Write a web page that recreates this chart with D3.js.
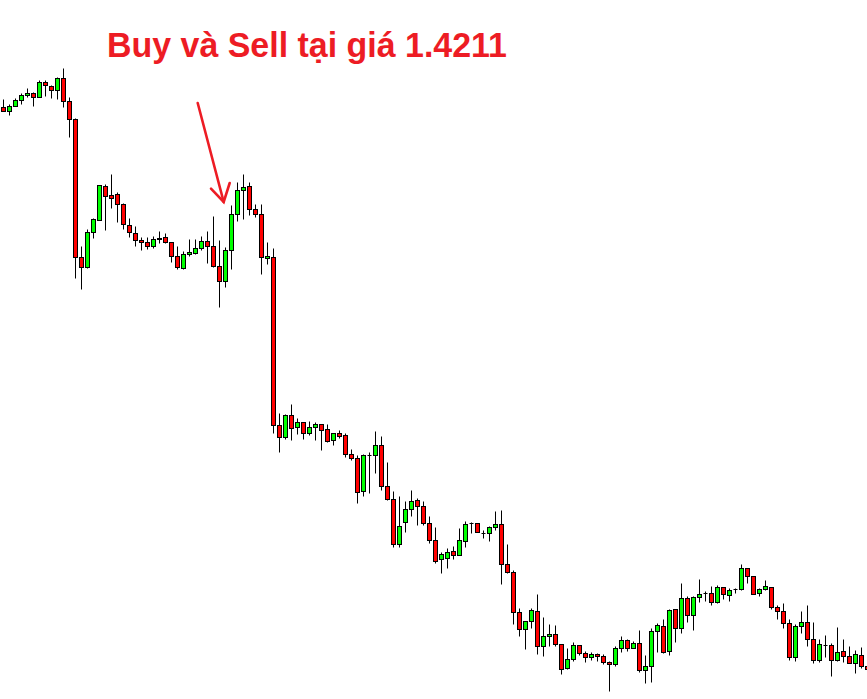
<!DOCTYPE html>
<html>
<head>
<meta charset="utf-8">
<script src="https://cdn.jsdelivr.net/npm/d3@7"></script>
<style>
  html, body { margin: 0; padding: 0; background: #fff; }
  svg { display: block; }
</style>
</head>
<body>
<div id="chart"></div>
<script>
// OHLC, one bar per index
const open = [
  1.4304,1.4300,1.4305,1.4311,1.4316,1.4318,1.4314,1.4329,1.4325,1.4321,
  1.4333,1.4310,1.4292,1.4154,1.4144,1.4179,1.4191,1.4225,1.4216,1.4217,
  1.4207,1.4186,1.4178,1.4171,1.4169,1.4165,1.4172,1.4174,1.4169,1.4155,
  1.4143,1.4157,1.4158,1.4163,1.4170,1.4165,1.4145,1.4130,1.4161,1.4197,
  1.4221,1.4225,1.4202,1.4197,1.4153,1.4154,1.3986,1.3974,1.3996,1.3984,
  1.3989,1.3978,1.3984,1.3987,1.3982,1.3971,1.3978,1.3976,1.3957,1.3953,
  1.3920,1.3956,1.3956,1.3966,1.3925,1.3912,1.3867,1.3889,1.3902,1.3911,
  1.3905,1.3888,1.3871,1.3852,1.3853,1.3860,1.3856,1.3870,1.3888,1.3888,
  1.3878,1.3878,1.3884,1.3887,1.3847,1.3839,1.3799,1.3782,1.3790,1.3800,
  1.3765,1.3775,1.3777,1.3767,1.3743,1.3752,1.3766,1.3758,1.3754,1.3757,
  1.3755,1.3749,1.3747,1.3763,1.3771,1.3763,1.3768,1.3741,1.3745,1.3780,
  1.3785,1.3760,1.3802,1.3783,1.3813,1.3796,1.3814,1.3818,1.3818,1.3809,
  1.3824,1.3816,1.3822,1.3822,1.3843,1.3835,1.3818,1.3822,1.3824,1.3804,
  1.3800,1.3788,1.3754,1.3785,1.3789,1.3772,1.3751,1.3766,1.3766,1.3751,
  1.3760,1.3755,1.3748,1.3756,1.3745
];
const high = [
  1.4312,1.4307,1.4313,1.4318,1.4323,1.4319,1.4331,1.4331,1.4326,1.4334,
  1.4343,1.4314,1.4293,1.4165,1.4182,1.4193,1.4226,1.4227,1.4237,1.4219,
  1.4208,1.4193,1.4185,1.4174,1.4174,1.4175,1.4180,1.4178,1.4169,1.4165,
  1.4160,1.4172,1.4172,1.4175,1.4180,1.4195,1.4171,1.4164,1.4206,1.4229,
  1.4237,1.4229,1.4207,1.4207,1.4169,1.4163,1.3998,1.3997,1.4007,1.3993,
  1.3989,1.3990,1.3989,1.3987,1.3987,1.3978,1.3981,1.3978,1.3962,1.3956,
  1.3957,1.3959,1.3980,1.3975,1.3949,1.3920,1.3915,1.3910,1.3921,1.3913,
  1.3910,1.3895,1.3884,1.3859,1.3863,1.3865,1.3883,1.3890,1.3889,1.3888,
  1.3881,1.3885,1.3900,1.3901,1.3867,1.3841,1.3803,1.3790,1.3803,1.3817,
  1.3794,1.3787,1.3786,1.3767,1.3763,1.3769,1.3766,1.3760,1.3759,1.3758,
  1.3757,1.3750,1.3765,1.3775,1.3772,1.3770,1.3781,1.3756,1.3783,1.3788,
  1.3792,1.3802,1.3802,1.3828,1.3815,1.3815,1.3832,1.3820,1.3825,1.3826,
  1.3824,1.3823,1.3823,1.3847,1.3843,1.3835,1.3823,1.3831,1.3824,1.3806,
  1.3808,1.3792,1.3787,1.3800,1.3806,1.3789,1.3772,1.3776,1.3768,1.3784,
  1.3772,1.3765,1.3761,1.3764,1.3747
];
const low = [
  1.4300,1.4296,1.4305,1.4307,1.4314,1.4305,1.4314,1.4315,1.4313,1.4312,
  1.4304,1.4274,1.4133,1.4122,1.4143,1.4173,1.4191,1.4181,1.4203,1.4189,
  1.4182,1.4174,1.4165,1.4161,1.4162,1.4163,1.4168,1.4168,1.4149,1.4142,
  1.4142,1.4155,1.4157,1.4161,1.4148,1.4144,1.4104,1.4124,1.4142,1.4190,
  1.4192,1.4196,1.4194,1.4137,1.4147,1.3978,1.3959,1.3972,1.3971,1.3977,
  1.3972,1.3976,1.3971,1.3961,1.3969,1.3966,1.3973,1.3954,1.3951,1.3908,
  1.3915,1.3918,1.3938,1.3921,1.3911,1.3864,1.3864,1.3879,1.3895,1.3886,
  1.3886,1.3868,1.3848,1.3838,1.3843,1.3852,1.3856,1.3864,1.3878,1.3879,
  1.3873,1.3870,1.3881,1.3827,1.3838,1.3787,1.3775,1.3762,1.3783,1.3757,
  1.3755,1.3765,1.3765,1.3737,1.3742,1.3750,1.3756,1.3749,1.3751,1.3750,
  1.3747,1.3720,1.3745,1.3759,1.3760,1.3763,1.3739,1.3728,1.3729,1.3759,
  1.3758,1.3756,1.3769,1.3778,1.3789,1.3781,1.3809,1.3810,1.3806,1.3808,
  1.3812,1.3810,1.3818,1.3821,1.3828,1.3817,1.3815,1.3821,1.3802,1.3792,
  1.3783,1.3751,1.3750,1.3778,1.3765,1.3748,1.3749,1.3754,1.3735,1.3750,
  1.3749,1.3748,1.3738,1.3743,1.3741
];
const close = [
  1.4300,1.4305,1.4311,1.4316,1.4318,1.4314,1.4329,1.4326,1.4321,1.4333,
  1.4310,1.4292,1.4154,1.4144,1.4179,1.4192,1.4226,1.4215,1.4213,1.4207,
  1.4187,1.4179,1.4171,1.4169,1.4165,1.4172,1.4173,1.4169,1.4155,1.4144,
  1.4157,1.4159,1.4163,1.4170,1.4165,1.4145,1.4130,1.4161,1.4197,1.4221,
  1.4224,1.4202,1.4197,1.4154,1.4155,1.3986,1.3974,1.3996,1.3983,1.3989,
  1.3978,1.3984,1.3987,1.3981,1.3970,1.3978,1.3975,1.3957,1.3953,1.3919,
  1.3956,1.3956,1.3966,1.3925,1.3912,1.3867,1.3885,1.3902,1.3910,1.3905,
  1.3888,1.3871,1.3850,1.3857,1.3859,1.3856,1.3871,1.3887,1.3888,1.3879,
  1.3878,1.3884,1.3887,1.3847,1.3839,1.3799,1.3782,1.3790,1.3801,1.3765,
  1.3775,1.3777,1.3767,1.3742,1.3752,1.3766,1.3758,1.3754,1.3757,1.3755,
  1.3749,1.3747,1.3763,1.3771,1.3763,1.3768,1.3741,1.3745,1.3780,1.3786,
  1.3759,1.3801,1.3783,1.3813,1.3796,1.3814,1.3817,1.3818,1.3809,1.3824,
  1.3817,1.3821,1.3822,1.3843,1.3835,1.3817,1.3822,1.3825,1.3804,1.3800,
  1.3788,1.3754,1.3785,1.3789,1.3772,1.3751,1.3767,1.3766,1.3751,1.3759,
  1.3755,1.3748,1.3757,1.3745,1.3742
];

const TITLE = 'Buy và Sell tại giá 1.4211';
// where the arrow points: bar index (fractional) and price
const arrowAt = { i: 36.7, price: 1.4209 };

const WIDTH = 867;
const HEIGHT = 699;
const BAR_STEP = 6;
const BODY_W = 4;

const UP = '#00ff00';
const DOWN = '#ff0000';
const INK = '#ed1c24';

const bars = open.map((o, i) => ({ i, o, h: high[i], l: low[i], c: close[i] }));

const x = d3.scaleLinear()
  .domain([0, bars.length - 1])
  .range([3.5, 3.5 + BAR_STEP * (bars.length - 1)]);

const y = d3.scaleLinear()
  .domain([1.4411, 1.3712])
  .range([0, HEIGHT]);

const py = v => Math.round(y(v)) + 0.5;

const svg = d3.select('#chart').append('svg')
  .attr('width', WIDTH)
  .attr('height', HEIGHT);

const g = svg.append('g').attr('class', 'candles');

const candle = g.selectAll('g.bar')
  .data(bars)
  .enter()
  .append('g')
  .attr('class', 'bar');

// wicks
candle.append('line')
  .attr('x1', d => x(d.i))
  .attr('x2', d => x(d.i))
  .attr('y1', d => py(d.h))
  .attr('y2', d => py(d.l))
  .attr('stroke', '#000')
  .attr('stroke-width', 1);

// bodies
candle.filter(d => d.o !== d.c)
  .append('rect')
  .attr('x', d => x(d.i) - BODY_W / 2)
  .attr('y', d => py(Math.max(d.o, d.c)))
  .attr('width', BODY_W)
  .attr('height', d => Math.max(1, py(Math.min(d.o, d.c)) - py(Math.max(d.o, d.c))))
  .attr('fill', d => d.c > d.o ? UP : DOWN)
  .attr('stroke', '#000')
  .attr('stroke-width', 1);

// doji
candle.filter(d => d.o === d.c)
  .append('line')
  .attr('x1', d => x(d.i) - BODY_W / 2)
  .attr('x2', d => x(d.i) + BODY_W / 2)
  .attr('y1', d => py(d.o))
  .attr('y2', d => py(d.o))
  .attr('stroke', '#000')
  .attr('stroke-width', 1);

// annotation
const tx = x(arrowAt.i), ty = y(arrowAt.price);
const ann = svg.append('g')
  .attr('stroke', INK)
  .attr('stroke-width', 2.6)
  .attr('stroke-linecap', 'round')
  .attr('fill', 'none');

ann.append('line')
  .attr('x1', tx - 26).attr('y1', ty - 99)
  .attr('x2', tx).attr('y2', ty);
ann.append('polyline')
  .attr('points', [[tx - 12.7, ty - 13.3], [tx, ty], [tx + 6, ty - 19]].join(' '));

svg.append('text')
  .attr('x', 107)
  .attr('y', 57)
  .attr('fill', INK)
  .attr('textLength', 400)
  .attr('lengthAdjust', 'spacingAndGlyphs')
  .style('font-family', '"Liberation Sans", Arial, sans-serif')
  .style('font-weight', 'bold')
  .style('font-size', '35px')
  .text(TITLE);
</script>
</body>
</html>
